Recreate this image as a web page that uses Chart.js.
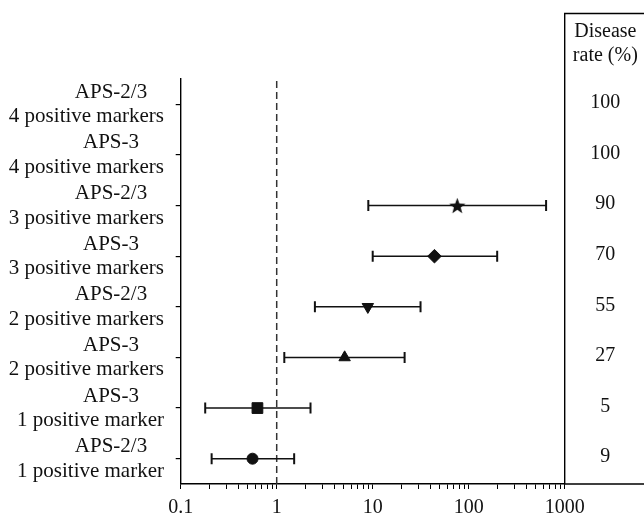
<!DOCTYPE html>
<html>
<head>
<meta charset="utf-8">
<script src="https://cdn.jsdelivr.net/npm/chart.js@4.4.1/dist/chart.umd.min.js"></script>
<style>
  html, body { margin: 0; padding: 0; background: #fff; }
  #wrap { width: 644px; height: 517px; }
</style>
</head>
<body>
<div id="wrap"><canvas id="chart" width="644" height="517"></canvas></div>
<script>
/* ── DATA (row 0 = bottom of the plot) ─────────────────────────────── */
const rowGroup   = ["APS-2/3", "APS-3", "APS-3", "APS-2/3", "APS-3", "APS-2/3", "APS-3", "APS-2/3"];
const rowMarkers = ["1 positive marker", "1 positive marker", "2 positive markers", "2 positive markers",
                    "3 positive markers", "3 positive markers", "4 positive markers", "4 positive markers"];
const rowEst     = [0.56, 0.63, 5.1, 8.9, 44, 76, null, null];
const ciLow      = [0.21, 0.18, 1.2, 2.5, 10, 9, null, null];
const ciHigh     = [1.52, 2.25, 21.5, 31.5, 198, 640, null, null];
const diseaseRate = ["9", "5", "27", "55", "70", "90", "100", "100"];
const markerShape = ["circle", "rect", "triangle", "triangleDown", "diamond", "star", null, null];

const xTickValues = [0.1, 1, 10, 100, 1000];
const xTickLabels = ["0.1", "1", "10", "100", "1000"];
const refLineX = 1;
const rateHeader = ["Disease", "rate (%)"];

/* ── STYLE ─────────────────────────────────────────────────────────── */
const INK = "#111";
const SERIF = '"Liberation Serif", "DejaVu Serif", serif';

function starImage(r) {
  const c = document.createElement("canvas");
  const s = Math.ceil(r * 2 + 2);
  c.width = c.height = s;
  const g = c.getContext("2d");
  g.fillStyle = INK;
  g.beginPath();
  for (let k = 0; k < 10; k++) {
    const a = -Math.PI / 2 + (k * Math.PI) / 5;
    const rr = k % 2 ? r * 0.42 : r;
    g.lineTo(s / 2 + rr * Math.cos(a), s / 2 + rr * Math.sin(a) + 0.8);
  }
  g.closePath();
  g.fill();
  return c;
}
const STAR = starImage(8.5);

const shapeStyle = {
  circle:       { style: "circle",   radius: 5.5, rot: 0 },
  rect:         { style: "rect",     radius: 7.6, rot: 0 },
  triangle:     { style: "triangle", radius: 6.6, rot: 0 },
  triangleDown: { style: "triangle", radius: 6.6, rot: 180 },
  diamond:      { style: "rectRot",  radius: 6.8, rot: 0 },
  star:         { style: STAR,       radius: 8,   rot: 0 },
};

/* ── DATASETS ──────────────────────────────────────────────────────── */
const idx = rowEst.map((v, i) => i).filter((i) => rowEst[i] != null);

const markerSet = {
  data: idx.map((i) => ({ x: rowEst[i], y: i })),
  pointStyle: idx.map((i) => shapeStyle[markerShape[i]].style),
  pointRadius: idx.map((i) => shapeStyle[markerShape[i]].radius),
  rotation: idx.map((i) => shapeStyle[markerShape[i]].rot),
  pointBackgroundColor: INK,
  pointBorderColor: INK,
  pointBorderWidth: 1,
  showLine: false,
};

const ciSets = idx.map((i) => ({
  data: [{ x: ciLow[i], y: i }, { x: ciHigh[i], y: i }],
  showLine: true,
  borderColor: INK,
  borderWidth: 1.6,
  pointStyle: "line",
  rotation: 90,
  pointRadius: 5.5,
  pointBorderWidth: 2,
  pointBorderColor: INK,
}));

const refSet = {
  data: [{ x: refLineX, y: -0.5 }, { x: refLineX, y: rowGroup.length - 0.5 }],
  showLine: true,
  borderColor: "#333",
  borderWidth: 1.5,
  borderDash: [7, 4],
  pointRadius: 0,
};

/* ── PLUGIN: row labels + disease-rate column ──────────────────────── */
const sidePlugin = {
  id: "side",
  afterDraw(chart) {
    const { ctx, scales } = chart;
    const x = scales.x, y = scales.y;
    const W = chart.width;
    ctx.save();
    ctx.fillStyle = INK;
    ctx.textBaseline = "middle";
    ctx.font = "21px " + SERIF;
    rowGroup.forEach((g, i) => {
      const py = y.getPixelForValue(i);
      ctx.textAlign = "center";
      ctx.fillText(g, 111, py - 12);
      ctx.textAlign = "right";
      ctx.fillText(rowMarkers[i], 164, py + 12.5);
    });

    // disease rate box
    const bx = x.right, top = 13.5, bot = y.bottom;
    ctx.strokeStyle = "#000";
    ctx.lineWidth = 1.4;
    ctx.beginPath();
    ctx.moveTo(W, top); ctx.lineTo(bx, top); ctx.lineTo(bx, bot); ctx.lineTo(W, bot);
    ctx.stroke();

    const cx = (bx + W) / 2 + 1;
    ctx.textAlign = "center";
    ctx.font = "20px " + SERIF;
    ctx.fillText(rateHeader[0], cx, 32);
    ctx.fillText(rateHeader[1], cx, 56);
    diseaseRate.forEach((r, i) => {
      ctx.fillText(r, cx, y.getPixelForValue(i) - 1.5);
    });
    ctx.restore();
  },
};

/* ── CHART ─────────────────────────────────────────────────────────── */
new Chart(document.getElementById("chart"), {
  type: "scatter",
  data: { datasets: [markerSet, ...ciSets, refSet] },
  options: {
    responsive: false,
    animation: false,
    events: [],
    layout: { padding: { top: 79, right: 79.3, left: 0, bottom: 0 } },
    plugins: { legend: { display: false }, tooltip: { enabled: false } },
    scales: {
      x: {
        type: "logarithmic",
        min: xTickValues[0],
        max: xTickValues[xTickValues.length - 1],
        afterFit: (s) => { s.height = 33; },
        afterBuildTicks: (s) => {
          const t = [];
          for (let d = 0; d < xTickValues.length - 1; d++) {
            for (let k = 1; k < 10; k++) t.push({ value: xTickValues[d] * k });
          }
          t.push({ value: xTickValues[xTickValues.length - 1] });
          s.ticks = t;
        },
        border: { display: true, color: "#000", width: 1.4 },
        grid: { drawOnChartArea: false, drawTicks: true, tickLength: 5, color: "#000", lineWidth: 1 },
        ticks: {
          autoSkip: false,
          maxRotation: 0,
          padding: 7,
          color: INK,
          font: { family: SERIF, size: 20 },
          callback: (v) => {
            const j = xTickValues.findIndex((t) => Math.abs(t - v) < 1e-9);
            return j >= 0 ? xTickLabels[j] : "";
          },
        },
      },
      y: {
        type: "linear",
        min: -0.5,
        max: rowGroup.length - 0.5,
        afterFit: (s) => { s.width = 180.7; },
        afterBuildTicks: (s) => { s.ticks = rowGroup.map((g, i) => ({ value: i })); },
        border: { display: true, color: "#000", width: 1.4 },
        grid: { drawOnChartArea: false, drawTicks: true, tickLength: 5, color: "#000", lineWidth: 1.2 },
        ticks: { display: false },
      },
    },
  },
  plugins: [sidePlugin],
});
</script>
</body>
</html>
